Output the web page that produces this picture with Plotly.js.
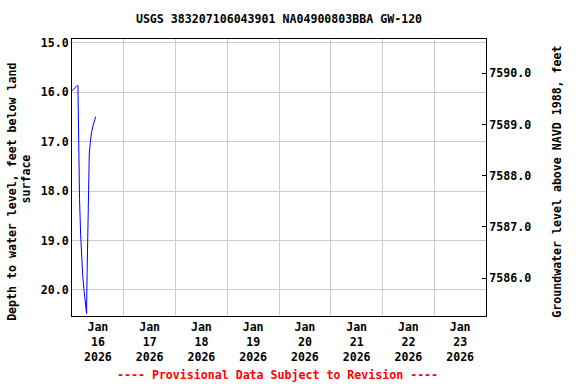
<!DOCTYPE html>
<html>
<head>
<meta charset="utf-8">
<script src="https://cdn.plot.ly/plotly-3.0.1.min.js"></script>
<style>html,body{margin:0;padding:0;background:#fff;}#chart{width:576px;height:384px;}</style>
</head>
<body>
<div id="chart"></div>
<script>
// Data
const times = [
  "2026-01-16 00:00","2026-01-16 01:45","2026-01-16 02:30","2026-01-16 02:45",
  "2026-01-16 03:00","2026-01-16 03:30","2026-01-16 04:00","2026-01-16 04:30",
  "2026-01-16 05:00","2026-01-16 05:30","2026-01-16 06:00","2026-01-16 06:30",
  "2026-01-16 06:45","2026-01-16 07:00","2026-01-16 07:30","2026-01-16 08:00",
  "2026-01-16 08:30","2026-01-16 09:00","2026-01-16 09:45","2026-01-16 10:15",
  "2026-01-16 11:00"
];
const depth = [
  15.97,15.88,15.86,15.86,
  17.23,18.17,18.88,19.37,
  19.73,19.98,20.18,20.38,
  20.48,19.69,18.13,17.25,
  17.02,16.82,16.68,16.58,
  16.49
];
const tickDates = ["2026-01-16 12:00","2026-01-17 12:00","2026-01-18 12:00","2026-01-19 12:00",
                   "2026-01-20 12:00","2026-01-21 12:00","2026-01-22 12:00","2026-01-23 12:00"];
const tickLabels = ["Jan<br>16<br>2026","Jan<br>17<br>2026","Jan<br>18<br>2026","Jan<br>19<br>2026",
                    "Jan<br>20<br>2026","Jan<br>21<br>2026","Jan<br>22<br>2026","Jan<br>23<br>2026"];
const leftTicks = [15,16,17,18,19,20];
const rightTicks = [7586,7587,7588,7589,7590];

const FONT = {family: "DejaVu Sans Mono", size: 11.6, color: "#000", weight: "bold"};

const trace = {
  x: times, y: depth, type: "scatter", mode: "lines",
  line: {color: "#0000ff", width: 1},
  hoverinfo: "none", showlegend: false
};
// empty trace so the right-hand elevation axis is drawn
const axisTrace = {
  x: [], y: [], type: "scatter", mode: "lines", yaxis: "y2",
  hoverinfo: "none", showlegend: false
};

const layout = {
  width: 576, height: 384,
  margin: {l: 72, r: 90, t: 39, b: 68},
  paper_bgcolor: "#fff", plot_bgcolor: "#fff",
  showlegend: false,
  font: FONT,
  title: {text: "USGS 383207106043901 NA04900803BBA GW-120", font: FONT,
          x: 0.5, xref: "paper", y: 1 - 19/384, yref: "container", yanchor: "middle"},
  xaxis: {
    type: "date", range: ["2026-01-16 00:00", "2026-01-24 00:00"],
    tickmode: "array", tickvals: tickDates, ticktext: tickLabels,
    ticks: "", showgrid: false, zeroline: false,
    showline: true, linecolor: "#000", linewidth: 1, mirror: true,
    tickfont: FONT,
    minor: {tickmode: "linear", tick0: "2026-01-16", dtick: 86400000,
            showgrid: true, gridcolor: "#cccccc", gridwidth: 1, ticks: ""}
  },
  yaxis: {
    range: [20.53, 14.92], tickmode: "array", tickvals: leftTicks,
    tickformat: ".1f", ticks: "", showgrid: true, gridcolor: "#cccccc",
    zeroline: false, showline: true, linecolor: "#000", linewidth: 1, mirror: true,
    tickfont: FONT
  },
  yaxis2: {
    overlaying: "y", side: "right", range: [7585.26, 7590.67], autorange: false,
    tickmode: "array", tickvals: rightTicks, tickformat: ".1f",
    ticks: "inside", ticklen: 4, tickcolor: "#000",
    showgrid: false, zeroline: false, showline: true, linecolor: "#000",
    tickfont: FONT
  },
  annotations: [
    {text: "Depth to water level, feet below land", textangle: -90, showarrow: false,
     xref: "paper", yref: "paper", x: -0.145, y: 0.448, xanchor: "center", yanchor: "middle", font: FONT},
    {text: "surface", textangle: -90, showarrow: false,
     xref: "paper", yref: "paper", x: -0.112, y: 0.495, xanchor: "center", yanchor: "middle", font: FONT},
    {text: "Groundwater level above NAVD 1988, feet", textangle: -90, showarrow: false,
     xref: "paper", yref: "paper", x: 1.171, y: 0.484, xanchor: "center", yanchor: "middle", font: FONT},
    {text: "---- Provisional Data Subject to Revision ----", showarrow: false,
     xref: "paper", yref: "paper", x: 0.496, y: -0.213, xanchor: "center", yanchor: "middle",
     font: {family: "DejaVu Sans Mono", size: 11.6, color: "#ff0000", weight: "bold"}}
  ]
};

Plotly.newPlot("chart", [trace, axisTrace], layout, {staticPlot: true, displayModeBar: false});
</script>
</body>
</html>
